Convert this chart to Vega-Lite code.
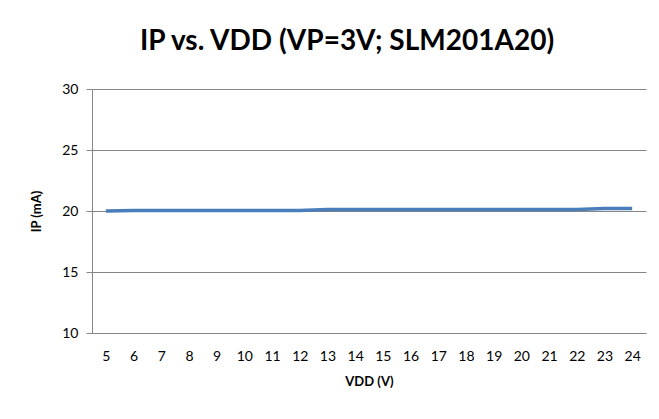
{
  "$schema": "https://vega.github.io/schema/vega-lite/v6.json",
  "autosize": "none",
  "width": 554,
  "height": 244,
  "padding": {"left": 92, "top": 89, "right": 13, "bottom": 86},
  "background": "white",
  "config": {
    "font": "Lato",
    "view": {"stroke": null},
    "axis": {"labelFont": "Lato", "titleFont": "Lato", "labelColor": "#000000", "titleColor": "#000000", "domainColor": "#868686", "tickColor": "#868686", "gridColor": "#868686", "labelFontSize": 14, "titleFontSize": 13, "titleFontWeight": "bold"}
  },
  "title": {"text": "IP vs. VDD (VP=3V; SLM201A20)", "fontSize": 28, "font": "Lato", "fontWeight": "bold", "color": "#000000", "anchor": "middle", "dx": -22, "offset": 26},
  "data": {"values": [
    {"vdd": 5, "ip": 20.0},
    {"vdd": 6, "ip": 20.05},
    {"vdd": 7, "ip": 20.05},
    {"vdd": 8, "ip": 20.05},
    {"vdd": 9, "ip": 20.05},
    {"vdd": 10, "ip": 20.05},
    {"vdd": 11, "ip": 20.05},
    {"vdd": 12, "ip": 20.05},
    {"vdd": 13, "ip": 20.12},
    {"vdd": 14, "ip": 20.12},
    {"vdd": 15, "ip": 20.12},
    {"vdd": 16, "ip": 20.12},
    {"vdd": 17, "ip": 20.12},
    {"vdd": 18, "ip": 20.12},
    {"vdd": 19, "ip": 20.12},
    {"vdd": 20, "ip": 20.12},
    {"vdd": 21, "ip": 20.12},
    {"vdd": 22, "ip": 20.12},
    {"vdd": 23, "ip": 20.2},
    {"vdd": 24, "ip": 20.2}
  ]},
  "mark": {"type": "line", "color": "#4A7EBB", "strokeWidth": 3.5},
  "encoding": {
    "x": {"field": "vdd", "type": "ordinal", "title": "VDD (V)", "scale": {"paddingInner": 0, "paddingOuter": 0.5}, "axis": {"labelAngle": 0, "ticks": false, "labelPadding": 16, "titlePadding": 12}},
    "y": {"field": "ip", "type": "quantitative", "title": "IP (mA)", "scale": {"domain": [10, 30], "nice": false}, "axis": {"values": [10, 15, 20, 25, 30], "tickSize": 6, "labelPadding": 8, "titlePadding": 18, "grid": true}}
  }
}
